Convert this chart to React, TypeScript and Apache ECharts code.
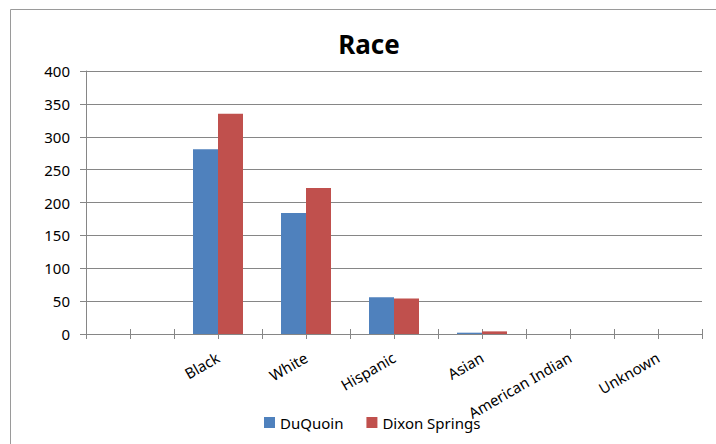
import React, { useEffect, useRef } from "react";
import * as echarts from "echarts";

const categories = ["", "Black", "White", "Hispanic", "Asian", "American Indian", "Unknown"];
const duQuoin = [null, 281, 184, 56, 2, 0, 0];
const dixonSprings = [null, 335, 222, 54, 4, 0, 0];
const yTicks = [0, 50, 100, 150, 200, 250, 300, 350, 400];

const FONT = "'Noto Sans', sans-serif";

export default function App() {
  const ref = useRef<HTMLDivElement>(null);
  useEffect(() => {
    document.body.style.margin = "0";
    const chart = echarts.init(ref.current!, null, { renderer: "svg" });
    chart.setOption({
      animation: false,
      backgroundColor: "#ffffff",
      textStyle: { fontFamily: FONT },
      title: {
        text: "Race",
        left: 364,
        textAlign: "center",
        top: 26,
        textStyle: { fontFamily: FONT, fontSize: 26, fontWeight: "bold", color: "#000" },
      },
      legend: {
        bottom: 9,
        left: 259,
        itemWidth: 11,
        itemHeight: 11,
        itemGap: 23,
        icon: "rect",
        textStyle: { fontFamily: FONT, fontSize: 15, color: "#000" },
        data: ["DuQuoin", "Dixon Springs"],
      },
      graphic: [
        {
          type: "rect",
          shape: { x: 10.5, y: 9.5, width: 800, height: 600 },
          style: { fill: "none", stroke: "#9a9a9a", lineWidth: 1 },
          silent: true,
        },
      ],
      grid: { left: 86, right: 14, top: 71, bottom: 110, containLabel: false },
      xAxis: [
        {
          type: "category",
          data: categories,
          boundaryGap: true,
          axisLine: { show: true, lineStyle: { color: "#868686", width: 1 } },
          axisTick: { show: false },
          axisLabel: {
            interval: 0,
            rotate: 30,
            margin: 22,
            fontFamily: FONT,
            fontSize: 15,
            color: "#000",
          },
        },
        {
          type: "value",
          min: 0,
          max: 14,
          interval: 1,
          position: "bottom",
          offset: -5,
          axisLine: { show: false },
          axisTick: { show: true, length: 10, lineStyle: { color: "#868686", width: 1 } },
          axisLabel: { show: false },
          splitLine: { show: false },
        },
      ],
      yAxis: {
        type: "value",
        min: yTicks[0],
        max: yTicks[yTicks.length - 1],
        interval: 50,
        axisLine: { show: true, lineStyle: { color: "#868686", width: 1 } },
        axisTick: { show: true, length: 6, lineStyle: { color: "#868686" } },
        axisLabel: { fontFamily: FONT, fontSize: 15, color: "#000", margin: 16 },
        splitLine: { show: true, lineStyle: { color: "#868686", width: 1 } },
      },
      series: [
        {
          name: "DuQuoin",
          type: "bar",
          data: duQuoin,
          barWidth: 25,
          barGap: "0%",
          itemStyle: { color: "#4F81BD" },
        },
        {
          name: "Dixon Springs",
          type: "bar",
          data: dixonSprings,
          barWidth: 25,
          barGap: "0%",
          itemStyle: { color: "#C0504D" },
        },
      ],
    });
    return () => chart.dispose();
  }, []);
  return <div ref={ref} style={{ width: 716, height: 444 }} />;
}
